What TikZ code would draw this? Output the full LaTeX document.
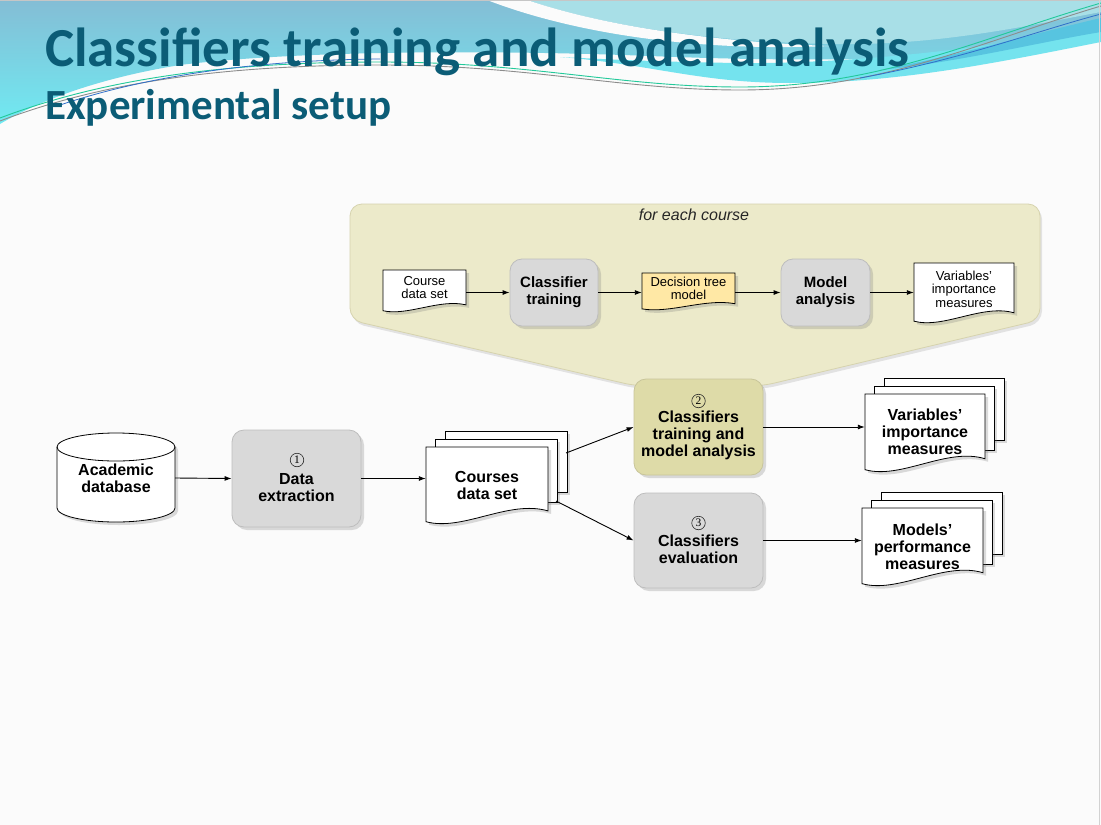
\documentclass[tikz,border=0pt]{standalone}
\usepackage{fontspec}
\setmainfont{Liberation Sans}
\newfontfamily\titlefont{Carlito}
\newfontfamily\numfont{Liberation Serif}
\usetikzlibrary{arrows.meta,shadows,calc}
\definecolor{titleblue}{HTML}{0B5C76}
\definecolor{procgray}{HTML}{D9D9D9}
\definecolor{procedge}{HTML}{BDBDBD}
\definecolor{hilite}{HTML}{DEDBA8}
\definecolor{hiliteedge}{HTML}{C8C59A}
\definecolor{calloutfill}{HTML}{ECEACA}
\definecolor{calloutedge}{HTML}{D6D3AE}
\definecolor{dtfill}{HTML}{FFE8A5}
\definecolor{bgcol}{HTML}{FBFBFB}
\definecolor{decoTop}{HTML}{84BDD5}
\definecolor{decoBot}{HTML}{70EAF2}
\definecolor{decoLight}{HTML}{A8DFE7}
\definecolor{decoCyan}{HTML}{74E3EE}
\definecolor{decoMid}{HTML}{57C4E0}
\definecolor{lineGray}{HTML}{8C8C8C}
\definecolor{lineGreen}{HTML}{22C99A}
\definecolor{lineBlue}{HTML}{2F6FC9}
% document shape: x1 y1 x2 y2 fill (pixel coords, y downwards)
\newcommand\docshape[5]{%
  \path[docst, fill=#5] (#1,#2) -- (#3,#2) -- (#3,{#4-0.17*(#4-#2)})
    .. controls ({#1+0.68*(#3-#1)},{#4-0.32*(#4-#2)}) and ({#1+0.3*(#3-#1)},{#4+0.1*(#4-#2)})
    .. (#1,{#4-0.03*(#4-#2)}) -- cycle;}
\newcommand\multidoc[4]{%
  \path[docst, fill=white] ({#1+19},{#2-16}) rectangle ({#3+19},{#4-32});
  \path[docst, fill=white] ({#1+9},{#2-8}) rectangle ({#3+9},{#4-22});
  \docshape{#1}{#2}{#3}{#4}{white}}
\newcommand\numline{\rule{0pt}{12pt}}
\begin{document}
\begin{tikzpicture}[x=1pt,y=-1pt,
  shd/.style={drop shadow={shadow xshift=3pt,shadow yshift=-3pt,opacity=0.25,fill=black!55}},
  docst/.style={draw=black,line width=0.8pt,shd},
  proc/.style={rounded corners=12pt,fill=procgray,draw=procedge,line width=0.8pt,shd,
    align=center,font=\bfseries\fontsize{16}{17}\selectfont,inner sep=0pt},
  iproc/.style={proc,font=\bfseries\fontsize{15}{17}\selectfont},
  dtext/.style={align=center,inner sep=0pt,font=\bfseries\fontsize{16}{17}\selectfont},
  itext/.style={align=center,inner sep=0pt,font=\fontsize{13}{13.5}\selectfont},
  cnum/.style={circle,draw=black!85,line width=0.6pt,inner sep=0pt,minimum size=13.5pt,
    font=\numfont\fontsize{11.5}{12}\selectfont},
  arr/.style={-{Latex[length=7pt,width=5pt]},line width=0.9pt},
]
\useasboundingbox (0,0) rectangle (1101,825);
\fill[bgcol] (0,0) rectangle (1101,825);

% ---------- header decoration ----------
\shade[top color=decoTop, bottom color=decoBot] (0,0) -- (1101,0) -- (1101,40)
  .. controls (950,62) and (800,62) .. (650,56)
  .. controls (500,50) and (300,50) .. (180,65)
  .. controls (100,78) and (40,100) .. (0,124) -- cycle;
\fill[decoCyan] (560,57) .. controls (650,64) and (700,83) .. (790,83)
  .. controls (900,83) and (1000,62) .. (1101,42) -- (1101,25)
  .. controls (1000,48) and (850,64) .. (740,63)
  .. controls (660,62) and (600,59) .. (560,57) -- cycle;
\fill[decoMid] (880,70) .. controls (960,62) and (1040,42) .. (1101,32) -- (1101,18)
  .. controls (1040,32) and (960,55) .. (880,70) -- cycle;
\fill[decoLight] (527,0) .. controls (610,28) and (720,42) .. (830,44)
  .. controls (940,46) and (1030,25) .. (1101,12) -- (1101,0) -- cycle;
\fill[bgcol] (487,0) .. controls (570,32) and (690,52) .. (830,46)
  .. controls (720,42) and (610,28) .. (527,0) -- cycle;
\draw[lineGray, line width=0.9pt] (0,121) .. controls (100,83) and (220,65) .. (380,65)
  .. controls (530,65) and (620,90) .. (740,90) .. controls (880,90) and (980,42) .. (1101,6);
\draw[lineGreen, line width=0.9pt] (0,118) .. controls (100,80) and (220,62) .. (380,62)
  .. controls (530,62) and (620,87) .. (740,87) .. controls (880,87) and (980,38) .. (1101,3);
\draw[lineBlue, line width=0.8pt] (60,105) .. controls (150,75) and (260,60) .. (380,59);
\draw[lineBlue, line width=0.8pt] (860,78) .. controls (960,60) and (1040,30) .. (1101,14);
\draw[gray!45, line width=1pt] (0,0.5) -- (1101,0.5);
\draw[gray!35, line width=1pt] (1099.5,0) -- (1099.5,825);

% ---------- titles ----------
\node[anchor=base west, inner sep=0pt, text=titleblue,
  font=\titlefont\bfseries\fontsize{55}{60}\selectfont] (title) at (45,66)
  {Classifiers training and model analysis};
\node[anchor=base west, inner sep=0pt, text=titleblue,
  font=\titlefont\bfseries\fontsize{43}{48}\selectfont] (subtitle) at (45,119)
  {Experimental setup};

% ---------- callout ----------
\path[rounded corners=12pt, fill=calloutfill, draw=calloutedge, line width=0.8pt,
  drop shadow={shadow xshift=2pt,shadow yshift=-3pt,opacity=0.2,fill=black!50}]
  (350,204) -- (1040,204) -- (1040,320) -- (762,386) -- (636,386) -- (350,320) -- cycle;
\node[inner sep=0pt, font=\itshape\fontsize{16}{18}\selectfont, text=black!85] (fec) at (694,215) {for each course};

% inner row
\docshape{383}{270}{466}{312}{white}
\node[itext, minimum width=83pt] (icds) at (424.5,287.5) {Course\\data set};
\node[iproc, minimum width=88pt, minimum height=67pt] (ict) at (554,292.5) {Classifier\\training};
\docshape{642}{273}{735}{310}{dtfill}
\node[itext, minimum width=93pt] (idt) at (688.5,288.5) {Decision tree\\model};
\node[iproc, minimum width=89pt, minimum height=67pt] (ima) at (825.5,292.5) {Model\\analysis};
\docshape{914}{263}{1014}{323}{white}
\node[itext, minimum width=100pt] (ivi) at (964,289) {Variables'\\importance\\measures};

\draw[arr] (ict.west -| icds.east) -- (ict.west);
\draw[arr] (ict.east) -- (ict.east -| idt.west);
\draw[arr] (ima.west -| idt.east) -- (ima.west);
\draw[arr] (ima.east) -- (ima.east -| ivi.west);

% ---------- main row ----------
\path[docst, fill=white] (57,447) -- (57,508)
  arc[start angle=180, end angle=360, x radius=59pt, y radius=14pt] -- (175,447)
  arc[start angle=0, end angle=180, x radius=59pt, y radius=14pt] -- cycle;
\draw[line width=0.8pt] (57,447) arc[start angle=180, end angle=360, x radius=59pt, y radius=14pt];
\node[dtext, minimum width=118pt, minimum height=60pt] (db) at (116,478) {Academic\\database};

\node[proc, minimum width=129pt, minimum height=97pt] (ext) at (296.5,478.5)
  {\numline\\Data\\extraction};
\node[cnum] (n1) at (297,460) {1};

\multidoc{426}{447}{548}{524}
\node[dtext, minimum width=122pt] (cds) at (487,485.5) {Courses\\data set};
\coordinate (cdsA) at (566,453);
\coordinate (cdsB) at (556,501);

\node[proc, fill=hilite, draw=hiliteedge, minimum width=129pt, minimum height=96pt] (cta) at (698.5,427)
  {\numline\\Classifiers\\training and\\model analysis};
\node[cnum] (n2) at (698.5,401) {2};
\node[proc, minimum width=129pt, minimum height=95pt] (ce) at (698.5,540.5)
  {\numline\\Classifiers\\evaluation};
\node[cnum] (n3) at (698.5,523) {3};

\multidoc{865}{394}{985}{472}
\node[dtext, minimum width=120pt] (vim) at (925,432) {Variables'\\importance\\measures};
\multidoc{862}{508}{983}{586}
\node[dtext, minimum width=121pt] (mpm) at (922.5,547) {Models'\\performance\\measures};

\draw[arr] (db.east) -- (ext.west);
\draw[arr] (ext.east) -- (ext.east -| cds.west);
\draw[arr] (cdsA) -- (cta.west);
\draw[arr] (cdsB) -- (ce.west);
\draw[arr] (cta.east) -- (cta.east -| vim.west);
\draw[arr] (ce.east) -- (ce.east -| mpm.west);
\end{tikzpicture}
\end{document}
